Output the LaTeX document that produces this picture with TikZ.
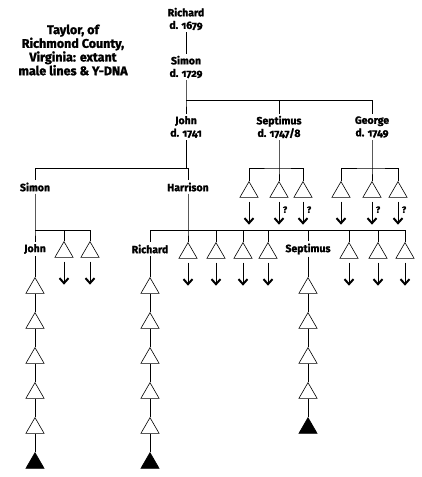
\documentclass[tikz,border=0pt]{standalone}
\usepackage{fontspec}
\setmainfont{Fira Sans}[Numbers=OldStyle,BoldFeatures={FakeBold=1.6}]
\usetikzlibrary{shapes.geometric,arrows.meta}
\tikzset{
  person/.style={font=\bfseries\fontsize{10.5}{12.5}\selectfont,align=center,inner sep=2pt},
  son/.style={regular polygon,regular polygon sides=3,draw,fill=white,line width=0.6pt,
    minimum size=21pt,inner sep=0pt,anchor=north},
  dna/.style={son,fill=black},
  line/.style={line width=0.8pt},
  onward/.style={line width=0.9pt,-{Straight Barb[length=5pt,width=9pt,line width=2pt]}},
  query/.style={font=\bfseries\fontsize{9}{10}\selectfont,inner sep=0pt}
}
\begin{document}
\begin{tikzpicture}[x=1pt,y=-1pt]
   \useasboundingbox (0,0) rectangle (422,477);
   \node[font=\bfseries\fontsize{12.5}{13.7}\selectfont,align=center] (title) at (73,50)
   {Taylor, of\\Richmond County,\\Virginia: extant\\male lines \& Y-DNA};

   \node[person] (richard) at (186,19) {Richard\\d. 1679};
   \node[person] (simon) at (186,67) {Simon\\d. 1729};
   \node[person] (john) at (186,127) {John\\d. 1741};
   \node[person] (septimus) at (279,127) {Septimus\\d. 1747/8};
   \node[person] (george) at (372,127) {George\\d. 1749};
   \node[person] (simon2) at (35,187) {Simon};
   \node[person] (harrison) at (188,187) {Harrison};
   \node[person] (john2) at (35,249) {John};
   \node[person] (richard2) at (150,249) {Richard};
   \node[person] (septimus2) at (308,249) {Septimus};

   \coordinate (bsimon) at (186,100);
   \coordinate (bjohn) at (186,168);
   \coordinate (bsept) at (279,168);
   \coordinate (bgeo) at (372,168);
   \coordinate (bsimon2) at (35,230);
   \coordinate (bharr) at (188,230);

   \draw[line] (richard) -- (simon);
   \draw[line] (simon) -- (bsimon) -- (john);
   \draw[line] (bsimon) -| (septimus);
   \draw[line] (bsimon) -| (george);
   \draw[line] (john) -- (bjohn) -| (simon2);
   \draw[line] (bjohn) -| (harrison);

   % sons of Septimus and George
   \foreach \i/\x in {1/249,2/279,3/303} \node[son] (s\i) at (\x,181) {};
   \foreach \i/\x in {1/341,2/372,3/398} \node[son] (g\i) at (\x,181) {};
   \draw[line] (septimus) -- (bsept) -- (s2);
   \draw[line] (s1) |- (bsept) -| (s3);
   \draw[line] (george) -- (bgeo) -- (g2);
   \draw[line] (g1) |- (bgeo) -| (g3);

   % sons of Simon and Harrison
   \foreach \i/\x in {1/64,2/90} \node[son] (m\i) at (\x,241) {};
   \foreach \i/\x in {1/188,2/216,3/243,4/268,5/349,6/378,7/405} \node[son] (h\i) at (\x,242) {};
   \draw[line] (simon2) -- (bsimon2) -- (john2);
   \draw[line] (bsimon2) -| (m1);
   \draw[line] (bsimon2) -| (m2);
   \draw[line] (harrison) -- (bharr) -- (h1);
   \draw[line] (bharr) -| (richard2);
   \draw[line] (bharr) -| (septimus2);
   \foreach \i in {2,...,7} \draw[line] (bharr) -| (h\i);

   \foreach \t in {s1,s2,s3,g1,g2,g3,m1,m2,h1,h2,h3,h4,h5,h6,h7}
     \draw[onward] ([yshift=-4pt]\t.south) -- ([yshift=-27pt]\t.south);
   \foreach \t in {s2,s3,g2,g3}
     \node[query] (q\t) at ([xshift=6pt,yshift=-12pt]\t.south) {?};

   % lines down to the tested men
   \foreach \n/\x/\k in {j/35/6,r/150/6,p/308/5}{
     \foreach \i in {1,...,\k}{
       \ifnum\i=\k \node[dna] (\n\i) at (\x,{242+35*\i}) {};
       \else \node[son] (\n\i) at (\x,{242+35*\i}) {};
       \fi}
   }
   \draw[line] (john2) -- (j1);
   \draw[line] (richard2) -- (r1);
   \draw[line] (septimus2) -- (p1);
   \foreach \i/\n in {1/2,2/3,3/4,4/5,5/6}{
     \draw[line] (j\i) -- (j\n);
     \draw[line] (r\i) -- (r\n);
   }
   \foreach \i/\n in {1/2,2/3,3/4,4/5} \draw[line] (p\i) -- (p\n);
\end{tikzpicture}
\end{document}
